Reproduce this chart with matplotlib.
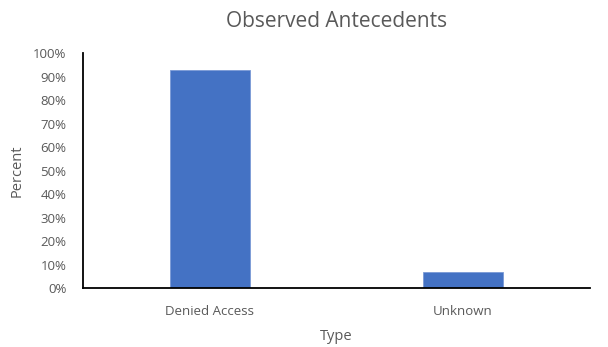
import matplotlib
matplotlib.use("Agg")
import matplotlib.pyplot as plt
from matplotlib.ticker import PercentFormatter, MultipleLocator

categories = ["Denied Access", "Unknown"]
percents = [93, 7]

plt.rcParams["font.family"] = ["Open Sans", "DejaVu Sans"]
text_color = "#595959"

fig = plt.figure(figsize=(6.08, 3.47), dpi=100)
ax = fig.add_axes([0.1365, 0.169, 0.8335, 0.678])

x = range(len(categories))
ax.bar(x, percents, width=0.315, color="#4472C4", edgecolor="#7A9AD6", linewidth=0.6)

ax.set_xlim(-0.5, 1.5)
ax.set_ylim(0, 100)
ax.yaxis.set_major_locator(MultipleLocator(10))
ax.yaxis.set_major_formatter(PercentFormatter(decimals=0))
ax.set_xticks(list(x))
ax.set_xticklabels(categories)

for side in ("top", "right"):
    ax.spines[side].set_visible(False)
for side in ("left", "bottom"):
    ax.spines[side].set_color("black")
    ax.spines[side].set_linewidth(1.3)

ax.tick_params(axis="both", length=0, labelsize=9.5, labelcolor=text_color)
ax.tick_params(axis="y", pad=12)
ax.tick_params(axis="x", pad=12)

ax.set_title("Observed Antecedents", fontsize=15, color=text_color, pad=19)
ax.set_xlabel("Type", fontsize=10.5, color=text_color, labelpad=8)
ax.set_ylabel("Percent", fontsize=10.5, color=text_color, labelpad=6)

fig.savefig("out.png", dpi=100)
